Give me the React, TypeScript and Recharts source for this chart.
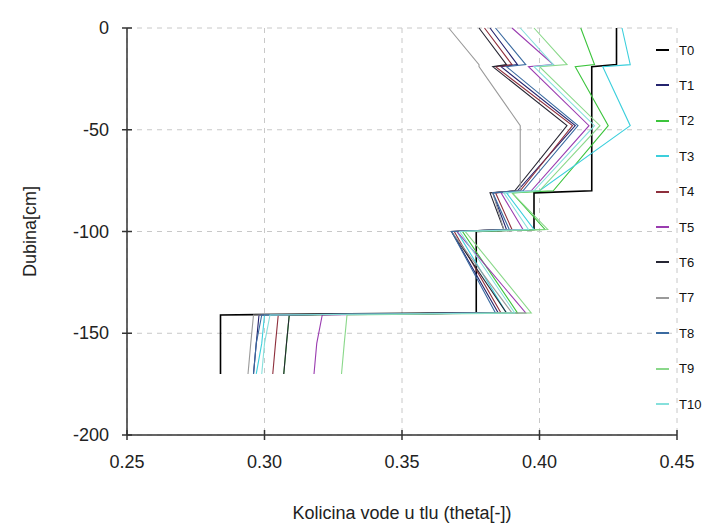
import { LineChart, Line, XAxis, YAxis, CartesianGrid } from 'recharts';

// depth nodes (cm), shared by every profile
const DEPTHS = [0, -18, -19, -48, -80, -81, -99, -100, -140, -141, -155, -170];

// water content (theta) at each depth node
const T0 = [0.428, 0.428, 0.419, 0.419, 0.419, 0.398, 0.398, 0.377, 0.377, 0.284, 0.284, 0.284];
const T1 = [0.382, 0.392, 0.386, 0.413, 0.392, 0.383, 0.388, 0.368, 0.385, 0.298, 0.297, 0.296];
const T2 = [0.415, 0.420, 0.413, 0.425, 0.405, 0.390, 0.402, 0.372, 0.392, 0.309, 0.308, 0.307];
const T3 = [0.430, 0.433, 0.423, 0.433, 0.400, 0.388, 0.398, 0.370, 0.388, 0.300, 0.299, 0.297];
const T4 = [0.380, 0.390, 0.384, 0.412, 0.393, 0.384, 0.390, 0.369, 0.386, 0.305, 0.304, 0.303];
const T5 = [0.390, 0.405, 0.396, 0.418, 0.397, 0.386, 0.394, 0.370, 0.395, 0.321, 0.319, 0.318];
const T6 = [0.378, 0.388, 0.383, 0.410, 0.391, 0.382, 0.387, 0.368, 0.388, 0.309, 0.308, 0.307];
const T7 = [0.367, 0.378, 0.378, 0.393, 0.393, 0.383, 0.387, 0.368, 0.390, 0.296, 0.295, 0.294];
const T8 = [0.384, 0.395, 0.388, 0.414, 0.394, 0.383, 0.389, 0.368, 0.384, 0.299, 0.297, 0.296];
const T9 = [0.398, 0.410, 0.400, 0.422, 0.400, 0.390, 0.403, 0.373, 0.397, 0.330, 0.329, 0.328];
const T10 = [0.393, 0.405, 0.398, 0.420, 0.398, 0.387, 0.396, 0.371, 0.391, 0.302, 0.300, 0.299];

const X_TICKS = [0.25, 0.3, 0.35, 0.4, 0.45];
const Y_TICKS = [0, -50, -100, -150, -200];

const SERIES = [
  { key: 'T0', values: T0, color: '#000000', width: 1.6 },
  { key: 'T1', values: T1, color: '#24246e', width: 1.1 },
  { key: 'T2', values: T2, color: '#3cc43c', width: 1.1 },
  { key: 'T3', values: T3, color: '#3ccfdc', width: 1.1 },
  { key: 'T4', values: T4, color: '#8e2f3c', width: 1.1 },
  { key: 'T5', values: T5, color: '#9a3cb0', width: 1.1 },
  { key: 'T6', values: T6, color: '#262633', width: 1.1 },
  { key: 'T7', values: T7, color: '#9a9a9a', width: 1.1 },
  { key: 'T8', values: T8, color: '#3a6aa0', width: 1.1 },
  { key: 'T9', values: T9, color: '#8ad88a', width: 1.1 },
  { key: 'T10', values: T10, color: '#86e0dc', width: 1.1 },
];

const rows = DEPTHS.map((depth, i) => {
  const row: Record<string, number> = { depth };
  SERIES.forEach((s) => {
    row[s.key] = s.values[i];
  });
  return row;
});

const FONT = '"Liberation Sans", Arial, sans-serif';
const AXIS = '#333333';

const BottomTick = (p: any) => (
  <g>
    <line x1={p.x} x2={p.x} y1={p.y - 5} y2={p.y + 5} stroke={AXIS} strokeWidth={1.5} />
    <text x={p.x} y={p.y + 33} textAnchor="middle" fontSize={18} fill="#222" fontFamily={FONT}>
      {p.payload.value.toFixed(2)}
    </text>
  </g>
);

const TopTick = (p: any) => (
  <line x1={p.x} x2={p.x} y1={p.y - 5} y2={p.y + 5} stroke={AXIS} strokeWidth={1.5} />
);

const LeftTick = (p: any) => (
  <g>
    <line x1={p.x - 5} x2={p.x + 5} y1={p.y} y2={p.y} stroke={AXIS} strokeWidth={1.5} />
    <text x={p.x - 18} y={p.y + 6} textAnchor="end" fontSize={18} fill="#222" fontFamily={FONT}>
      {p.payload.value}
    </text>
  </g>
);

export default function App() {
  return (
    <div style={{ position: 'absolute', left: 0, top: 0, width: 719, height: 529, background: '#fff' }}>
      <LineChart
        width={719}
        height={529}
        data={rows}
        layout="vertical"
        margin={{ top: 28, right: 42, bottom: 0, left: 20 }}
      >
        <CartesianGrid stroke="#c8c8c8" strokeDasharray="5 5" />
        <XAxis
          type="number"
          domain={[0.25, 0.45]}
          ticks={X_TICKS}
          height={94}
          tickSize={0}
          tickMargin={0}
          tick={BottomTick}
          axisLine={{ stroke: AXIS, strokeWidth: 1.5 }}
          tickLine={false}
          label={{ value: 'Kolicina vode u tlu (theta[-])', position: 'insideBottom', offset: 10, fontSize: 18, fill: '#222', fontFamily: FONT }}
        />
        <XAxis
          xAxisId="top"
          orientation="top"
          type="number"
          domain={[0.25, 0.45]}
          ticks={X_TICKS}
          height={0}
          tickSize={0}
          tickMargin={0}
          tick={TopTick}
          axisLine={{ stroke: AXIS, strokeWidth: 1.5 }}
          tickLine={false}
        />
        <YAxis
          type="number"
          dataKey="depth"
          domain={[-200, 0]}
          ticks={Y_TICKS}
          reversed
          width={107}
          tickSize={0}
          tickMargin={0}
          tick={LeftTick}
          axisLine={{ stroke: AXIS, strokeWidth: 1.5 }}
          tickLine={false}
          label={{ value: 'Dubina[cm]', angle: -90, position: 'insideLeft', offset: 10, fontSize: 18, fill: '#222', fontFamily: FONT, style: { textAnchor: 'middle' } }}
        />
        {SERIES.map((s) => (
          <Line
            key={s.key}
            dataKey={s.key}
            stroke={s.color}
            strokeWidth={s.width}
            dot={false}
            type="linear"
            isAnimationActive={false}
          />
        ))}
      </LineChart>
      {SERIES.map((s, i) => (
        <div
          key={s.key}
          style={{ position: 'absolute', left: 656, top: 50 + i * 35.4 - 8, height: 16, display: 'flex', alignItems: 'center' }}
        >
          <span style={{ display: 'inline-block', width: 13, height: 2, background: s.color }} />
          <span style={{ marginLeft: 10, fontSize: 13, fontFamily: FONT, color: '#111' }}>{s.key}</span>
        </div>
      ))}
    </div>
  );
}
